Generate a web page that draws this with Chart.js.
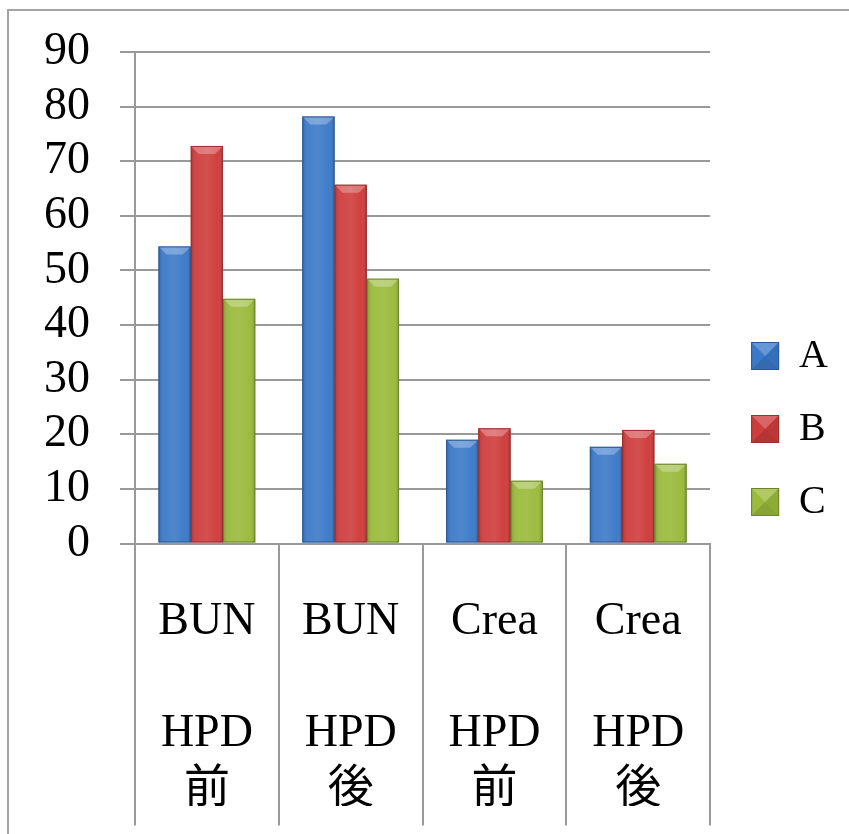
<!DOCTYPE html>
<html>
<head>
<meta charset="utf-8">
<script src="https://cdn.jsdelivr.net/npm/chart.js@4/dist/chart.umd.min.js"></script>
<style>
  html, body { margin: 0; padding: 0; background: #ffffff; overflow: hidden; }
  #frame { position: absolute; left: 7px; top: 9px; width: 900px; height: 900px;
           border: 2px solid #a4a4a4; box-sizing: border-box; }
  #wrap { position: absolute; left: 0; top: 0; width: 849px; height: 834px; }
</style>
</head>
<body>
<div id="frame"></div>
<div id="wrap"><canvas id="chart"></canvas></div>
<script>
// Categories (multi-line axis labels) and series values
const categories = [
  ['BUN', '', 'HPD', '前'],
  ['BUN', '', 'HPD', '後'],
  ['Crea', '', 'HPD', '前'],
  ['Crea', '', 'HPD', '後']
];
const seriesNames = ['A', 'B', 'C'];
const seriesA = [54.4, 78.2, 19.0, 17.7];
const seriesB = [72.8, 65.7, 21.1, 20.8];
const seriesC = [44.8, 48.5, 11.5, 14.6];
const yTicks = [0, 10, 20, 30, 40, 50, 60, 70, 80, 90];

const fills   = ['#3b79c9', '#cf3c3c', '#9aba3b'];
const edges   = ['#2b5893', '#973030', '#6c842a'];
const serif = '"Liberation Serif", "Noto Sans CJK JP", serif';
const gridGray = '#999999';

// Bevelled look for a rectangle: side shading plus a light top facet
function shadeBar(ctx, l, t, r, b, edge) {
  ctx.save();
  const g = ctx.createLinearGradient(l, 0, r, 0);
  g.addColorStop(0, 'rgba(0,0,0,0.16)');
  g.addColorStop(0.18, 'rgba(255,255,255,0.06)');
  g.addColorStop(0.5, 'rgba(255,255,255,0.10)');
  g.addColorStop(0.82, 'rgba(255,255,255,0.02)');
  g.addColorStop(1, 'rgba(0,0,0,0.20)');
  ctx.fillStyle = g;
  ctx.fillRect(l, t, r - l, b - t);
  const bv = Math.min(8, (b - t) / 2);
  ctx.beginPath();
  ctx.moveTo(l, t); ctx.lineTo(r, t); ctx.lineTo(r - bv, t + bv); ctx.lineTo(l + bv, t + bv);
  ctx.closePath();
  ctx.fillStyle = 'rgba(255,255,255,0.28)';
  ctx.fill();
  ctx.strokeStyle = edge;
  ctx.lineWidth = 1;
  ctx.strokeRect(l + 0.5, t + 0.5, r - l - 1, b - t - 1);
  ctx.restore();
}

// Pyramid shading for the legend swatches
function shadeSwatch(ctx, l, t, s, edge) {
  ctx.save();
  const cx = l + s / 2, cy = t + s / 2;
  ctx.beginPath(); ctx.moveTo(l, t); ctx.lineTo(l + s, t); ctx.lineTo(cx, cy); ctx.closePath();
  ctx.fillStyle = 'rgba(255,255,255,0.22)'; ctx.fill();
  ctx.beginPath(); ctx.moveTo(l, t + s); ctx.lineTo(l + s, t + s); ctx.lineTo(cx, cy); ctx.closePath();
  ctx.fillStyle = 'rgba(0,0,0,0.12)'; ctx.fill();
  ctx.beginPath(); ctx.moveTo(l + s, t); ctx.lineTo(l + s, t + s); ctx.lineTo(cx, cy); ctx.closePath();
  ctx.fillStyle = 'rgba(0,0,0,0.08)'; ctx.fill();
  ctx.strokeStyle = edge; ctx.lineWidth = 1;
  ctx.strokeRect(l + 0.5, t + 0.5, s - 1, s - 1);
  ctx.restore();
}

const bevel = {
  id: 'bevel',
  afterDatasetsDraw(chart) {
    const ctx = chart.ctx;
    chart.data.datasets.forEach((ds, di) => {
      chart.getDatasetMeta(di).data.forEach(bar => {
        const { x, y, base, width } = bar.getProps(['x', 'y', 'base', 'width'], true);
        shadeBar(ctx, x - width / 2, Math.min(y, base), x + width / 2, Math.max(y, base), edges[di]);
      });
    });
  },
  afterDraw(chart) {
    const lg = chart.legend;
    if (!lg || !lg.legendHitBoxes) return;
    const opts = lg.options.labels;
    const size = opts.font.size;
    lg.legendHitBoxes.forEach((hb, i) => {
      const top = hb.top + (size - opts.boxHeight) / 2;
      shadeSwatch(chart.ctx, hb.left, top, opts.boxWidth, edges[i]);
    });
  }
};

new Chart(document.getElementById('chart'), {
  type: 'bar',
  data: {
    labels: categories,
    datasets: [
      { label: seriesNames[0], data: seriesA, backgroundColor: fills[0], borderColor: edges[0], borderWidth: 0 },
      { label: seriesNames[1], data: seriesB, backgroundColor: fills[1], borderColor: edges[1], borderWidth: 0 },
      { label: seriesNames[2], data: seriesC, backgroundColor: fills[2], borderColor: edges[2], borderWidth: 0 }
    ]
  },
  plugins: [bevel],
  options: {
    responsive: true,
    maintainAspectRatio: false,
    animation: false,
    categoryPercentage: 0.673,
    barPercentage: 1.0,
    layout: { padding: { left: 0, top: 52, right: 11, bottom: 28 } },
    plugins: {
      tooltip: { enabled: false },
      legend: {
        position: 'right',
        labels: {
          boxWidth: 28,
          boxHeight: 28,
          padding: 33,
          color: '#000000',
          font: { family: serif, size: 40 }
        }
      }
    },
    scales: {
      x: {
        grid: {
          offset: true,
          drawOnChartArea: false,
          drawTicks: true,
          tickLength: 282,
          color: gridGray,
          lineWidth: 2
        },
        border: { display: true, color: gridGray, width: 2 },
        ticks: {
          color: '#000000',
          font: { family: serif, size: 46, lineHeight: 56 / 46 },
          padding: -231.5,
          maxRotation: 0,
          minRotation: 0,
          autoSkip: false
        },
        afterFit(s) { s.height = 262.5; }
      },
      y: {
        min: 0,
        max: 90,
        afterBuildTicks(s) { s.ticks = yTicks.map(v => ({ value: v })); },
        grid: { color: gridGray, lineWidth: 2, tickLength: 15 },
        border: { display: true, color: gridGray, width: 2 },
        ticks: {
          color: '#000000',
          padding: 30,
          autoSkip: false,
          font: { family: serif, size: 46, lineHeight: 0.8 }
        },
        afterFit(s) { s.width = 135; }
      },
      gap: {
        position: 'right',
        display: true,
        grid: { display: false },
        border: { display: false },
        ticks: { display: false },
        afterFit(s) { s.width = 8; }
      }
    }
  }
});
</script>
</body>
</html>
